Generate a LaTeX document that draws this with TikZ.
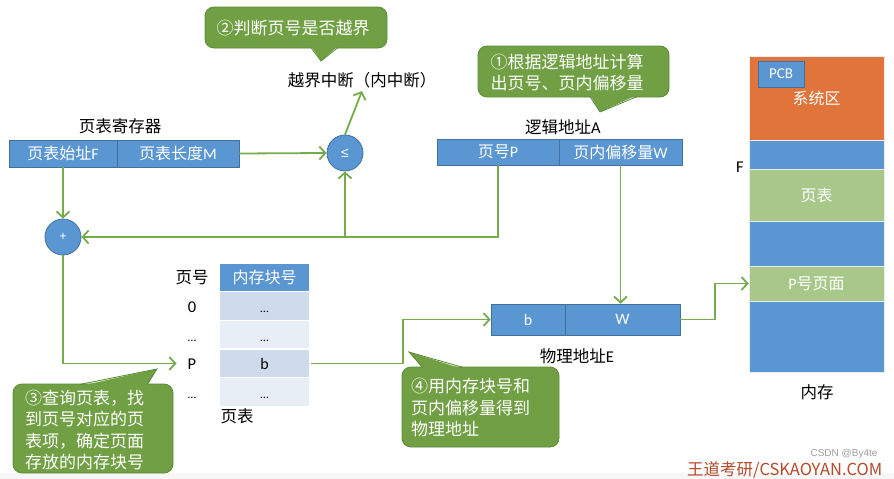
\documentclass[tikz,border=0pt]{standalone}
\usepackage{fontspec}
\setmainfont{Carlito}
\newfontfamily\cjk{Noto Sans CJK SC}
\newfontfamily\arialfont{Liberation Sans}
\usetikzlibrary{arrows.meta,calc}
\definecolor{barblue}{HTML}{5A96D2}
\definecolor{barline}{HTML}{41719C}
\definecolor{orangesys}{HTML}{E0743A}
\definecolor{pagegreen}{HTML}{A8C88A}
\definecolor{callgreen}{HTML}{71A044}
\definecolor{callline}{HTML}{5B8A36}
\definecolor{arrowgreen}{HTML}{76AB4D}
\definecolor{rowdark}{HTML}{CFDBEB}
\definecolor{rowlight}{HTML}{E8EEF6}
\definecolor{wmred}{HTML}{B4492B}
\newcommand\zh[1]{{\cjk #1}}
\begin{document}
\begin{tikzpicture}[x=1pt,y=-1pt,
  lbl/.style={font=\fontsize{16.5}{19}\selectfont, text=black, inner sep=0pt},
  bartext/.style={font=\fontsize{16}{19}\selectfont, text=white, inner sep=0pt},
  barcell/.style={fill=barblue, draw=barline, line width=0.6pt, bartext},
  op/.style={circle, fill=barblue, draw=barline, line width=0.8pt, minimum size=36pt, inner sep=0pt, text=white, font=\fontsize{13}{15}\selectfont},
  flow/.style={draw=arrowgreen, line width=1.8pt},
  arr/.style={flow, -{Straight Barb[length=6pt,width=13pt]}},
  callbox/.style={fill=callgreen, draw=callline, line width=0.8pt, rounded corners=9pt},
  calltail/.style={fill=callgreen},
  tailedge/.style={draw=callline, line width=0.8pt},
  calltext/.style={font=\fontsize{17}{21.5}\selectfont\cjk, text=white, inner sep=0pt, align=left},
  cell/.style={draw=white, line width=1.5pt, minimum width=91pt, font=\fontsize{16}{19}\selectfont, text height=12pt, text depth=0pt, inner sep=0pt},
  rowlbl/.style={lbl, text height=12pt, text depth=0pt},
  memsec/.style={minimum width=135pt, inner sep=0pt, draw=white!85!gray, line width=0.5pt, bartext},
]
\useasboundingbox (0,0) rectangle (894,479);
\fill[white] (0,0) rectangle (894,479);
\fill[gray!7] (0,473) rectangle (894,479);

% page-table register
\node[lbl] (regl) at (120,126) {\zh{页表寄存器}};
\node[barcell, minimum width=108pt, minimum height=27pt] (rF) at (63,153.5) {\zh{页表始址}F};
\node[barcell, minimum width=122pt, minimum height=27pt] (rM) at (178,153.5) {\zh{页表长度}M};

% comparator and adder
\node[op, font=\fontsize{14}{16}\selectfont\arialfont] (cmp) at (345,153) {≤};
\node[op] (plus) at (63,237) {+};
\node[lbl] (int) at (362,80) {\zh{越界中断（内中断）}};

% logical address
\node[lbl] (la) at (563,127) {\zh{逻辑地址}A};
\node[barcell, minimum width=122pt, minimum height=26pt] (lP) at (498,152) {\zh{页号}P};
\node[barcell, minimum width=123pt, minimum height=26pt] (lW) at (620.5,152) {\zh{页内偏移量}W};

% page table
\node[lbl] (hno) at (192,278) {\zh{页号}};
\node[cell, fill=barblue, text=white, minimum height=28pt, text height=, text depth=] (hdr) at (264.5,277.5) {\zh{内存块号}};
\node[cell, fill=rowdark, minimum height=29.5pt] (r0) at (264.5,306) {\fontsize{12}{14}\selectfont …};
\node[cell, fill=rowlight, minimum height=29.5pt] (r1) at (264.5,335) {\fontsize{12}{14}\selectfont …};
\node[cell, fill=rowdark, minimum height=29.5pt] (r2) at (264.5,363.5) {b};
\node[cell, fill=rowlight, minimum height=29.5pt] (r3) at (264.5,392) {\fontsize{12}{14}\selectfont …};
\node[rowlbl] (l0) at (192,306) {0};
\node[rowlbl] (l1) at (192,335) {\fontsize{12}{14}\selectfont …};
\node[rowlbl] (lPr) at (192,363.5) {P};
\node[rowlbl] (l3) at (192,392) {\fontsize{12}{14}\selectfont …};
\node[lbl] (ptl) at (237,416) {\zh{页表}};

% physical address
\node[barcell, minimum width=74pt, minimum height=31pt] (pb) at (528,319.5) {b};
\node[barcell, minimum width=115pt, minimum height=31pt] (pW) at (622.5,319.5) {W};
\node[lbl] (pa) at (577,356) {\zh{物理地址}E};

% memory
\node[memsec, fill=orangesys, minimum height=84pt] (msys) at (816.5,98) {\zh{系统区}};
\node[fill=barblue, draw=barline, line width=0.6pt, minimum width=46pt, minimum height=26pt, inner sep=0pt, text=white, font=\fontsize{15}{17}\selectfont] (pcb) at (781,74) {PCB};
\node[memsec, fill=barblue, minimum height=29pt] (mb1) at (816.5,154.5) {};
\node[memsec, fill=pagegreen, minimum height=52pt] (mpt) at (816.5,195) {\zh{页表}};
\node[memsec, fill=barblue, minimum height=45pt] (mb2) at (816.5,243.5) {};
\node[memsec, fill=pagegreen, minimum height=35pt] (mpp) at (816.5,283.5) {P\zh{号页面}};
\node[memsec, fill=barblue, minimum height=71pt] (mb3) at (816.5,336.5) {};
\node[lbl, anchor=east] (fl) at (744,167) {F};
\node[lbl] (meml) at (817,392) {\zh{内存}};

% connectors
\draw[arr] (rM.east) -- (cmp.west);
\draw[arr] (cmp.north) -- ([yshift=-3pt]int.south);
\draw[arr] (rF.south) -- (plus.north);
\draw[arr] (lP.south) |- (plus.east);
\coordinate (j) at (cmp |- plus);
\draw[arr] (j) -- (cmp.south);
\draw[arr] (plus.south) |- ([xshift=-11pt]lPr.west);
\draw[arr] (lW.south) -- (lW.south |- pW.north);
\draw[arr] (r2.east) -- ++(92,0) |- (pb.west);
\draw[arr] (pW.east) -- ++(35,0) |- (mpp.west);

% callout 1
\node[callbox, minimum width=191pt, minimum height=51pt] (c1) at (573.5,71.5) {};
\fill[calltail] (590,95) -- (600,112) -- (637,95) -- cycle;
\draw[tailedge] (590,96.6) -- (600,112) -- (637,96.6);
\node[calltext] (t1) at (567,72.5) {①根据逻辑地址计算\\出页号、页内偏移量};

% callout 2
\node[callbox, minimum width=182pt, minimum height=41pt] (c2) at (296,27.5) {};
\fill[calltail] (311,46) -- (321,61) -- (338,46) -- cycle;
\draw[tailedge] (311,47.6) -- (321,61) -- (338,47.6);
\node[calltext] (t2) at (293,28) {②判断页号是否越界};

% callout 3
\node[callbox, minimum width=160pt, minimum height=89pt] (c3) at (93,428.5) {};
\fill[calltail] (80,386) -- (157,369) -- (147,386) -- cycle;
\draw[tailedge] (80,384.4) -- (157,369) -- (147,384.4);
\node[calltext, anchor=west] (t3) at (25,430) {③查询页表，找\\到页号对应的页\\表项，确定页面\\存放的内存块号};

% callout 4
\node[callbox, minimum width=157pt, minimum height=80pt] (c4) at (480.5,407) {};
\fill[calltail] (423,369) -- (409,352) -- (463,369) -- cycle;
\draw[tailedge] (423,367.4) -- (409,352) -- (463,367.4);
\node[calltext, anchor=west] (t4) at (411,407.5) {④用内存块号和\\页内偏移量得到\\物理地址};

% watermark
\node[anchor=base west, inner sep=0pt, text=wmred, font=\fontsize{16.5}{19}\selectfont\cjk] (wm) at (687,475) {王道考研/CSKAOYAN.COM};
\node[inner sep=0pt, text=gray!75, font=\fontsize{10}{12}\selectfont\arialfont] (csdn) at (844,454) {CSDN @By4te};
\end{tikzpicture}
\end{document}
